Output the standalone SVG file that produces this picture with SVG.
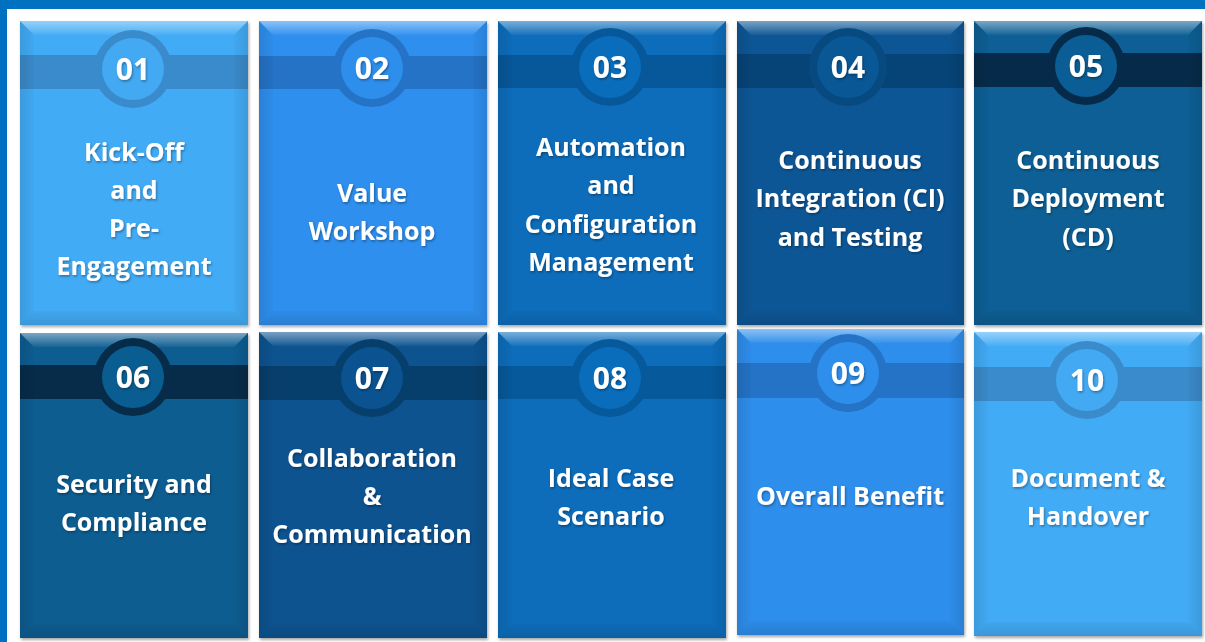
<svg xmlns="http://www.w3.org/2000/svg" width="1205" height="642" viewBox="0 0 1205 642">
<defs>
<linearGradient id="gTop" x1="0" y1="0" x2="0" y2="1"><stop offset="0" stop-color="#fff" stop-opacity="0.45"/><stop offset="1" stop-color="#fff" stop-opacity="0.04"/></linearGradient>
<linearGradient id="gLeft" x1="0" y1="0" x2="1" y2="0"><stop offset="0" stop-color="#000" stop-opacity="0.10"/><stop offset="1" stop-color="#000" stop-opacity="0.02"/></linearGradient>
<linearGradient id="gRight" x1="0" y1="0" x2="1" y2="0"><stop offset="0" stop-color="#000" stop-opacity="0.02"/><stop offset="1" stop-color="#000" stop-opacity="0.10"/></linearGradient>
<linearGradient id="gBot" x1="0" y1="0" x2="0" y2="1"><stop offset="0" stop-color="#000" stop-opacity="0.03"/><stop offset="1" stop-color="#000" stop-opacity="0.12"/></linearGradient>
<filter id="sh" x="-5%" y="-5%" width="110%" height="110%"><feDropShadow dx="1" dy="2" stdDeviation="1.5" flood-color="#000" flood-opacity="0.35"/></filter>
<filter id="ts" x="-10%" y="-20%" width="120%" height="140%"><feDropShadow dx="1" dy="1.5" stdDeviation="0.8" flood-color="#000" flood-opacity="0.35"/></filter>
</defs>
<style>
.lbl{font-family:"Open Sans","Noto Sans","Liberation Sans",sans-serif;font-weight:700;font-size:25px;fill:#fff;text-anchor:middle;filter:url(#ts)}
.num{font-family:"Open Sans","Noto Sans","Liberation Sans",sans-serif;font-weight:700;font-size:30px;fill:#fff;text-anchor:middle;filter:url(#ts)}
.bt{fill:url(#gTop)}.bl{fill:url(#gLeft)}.br{fill:url(#gRight)}.bb{fill:url(#gBot)}
</style>
<rect width="1205" height="642" fill="#fff"/>
<rect x="0" y="0" width="1205" height="9" fill="#0070C0"/>
<rect x="0" y="0" width="7" height="642" fill="#0070C0"/>

<g id="card01" transform="translate(20,21)">
<rect width="228" height="304" fill="#42ABF5" filter="url(#sh)"/>
<rect y="34" width="228" height="34" fill="#3A8BCB"/>
<polygon class="bt" points="0,0 228,0 214,14 14,14"/><polygon class="bl" points="0,0 14,14 14,290 0,304"/><polygon class="br" points="228,0 228,304 214,290 214,14"/><polygon class="bb" points="0,304 14,290 214,290 228,304"/>
<circle cx="113" cy="48" r="39" fill="#3A8BCB"/><circle cx="113" cy="48" r="31" fill="#42A9F2"/>
<text class="num" x="113" y="59">01</text>
<text class="lbl" x="114" y="140">Kick-Off</text><text class="lbl" x="114" y="178">and</text><text class="lbl" x="114" y="216">Pre-</text><text class="lbl" x="114" y="254">Engagement</text>
</g>

<g id="card02" transform="translate(259,21)">
<rect width="228" height="304" fill="#2E8FEE" filter="url(#sh)"/>
<rect y="35" width="228" height="33" fill="#2473C6"/>
<polygon class="bt" points="0,0 228,0 214,14 14,14"/><polygon class="bl" points="0,0 14,14 14,290 0,304"/><polygon class="br" points="228,0 228,304 214,290 214,14"/><polygon class="bb" points="0,304 14,290 214,290 228,304"/>
<circle cx="113" cy="47" r="39" fill="#2473C6"/><circle cx="113" cy="47" r="31" fill="#2E8EEC"/>
<text class="num" x="113" y="58">02</text>
<text class="lbl" x="113" y="181">Value</text><text class="lbl" x="113" y="219">Workshop</text>
</g>

<g id="card03" transform="translate(498,21)">
<rect width="228" height="304" fill="#0A6DBB" filter="url(#sh)"/>
<rect y="34" width="228" height="33" fill="#06589A"/>
<polygon class="bt" points="0,0 228,0 214,14 14,14"/><polygon class="bl" points="0,0 14,14 14,290 0,304"/><polygon class="br" points="228,0 228,304 214,290 214,14"/><polygon class="bb" points="0,304 14,290 214,290 228,304"/>
<circle cx="112" cy="46" r="39" fill="#06589A"/><circle cx="112" cy="46" r="31" fill="#0A6DBB"/>
<text class="num" x="112" y="57">03</text>
<text class="lbl" x="113" y="135">Automation</text><text class="lbl" x="113" y="173">and</text><text class="lbl" x="113" y="212">Configuration</text><text class="lbl" x="113" y="250">Management</text>
</g>

<g id="card04" transform="translate(737,21)">
<rect width="227" height="304" fill="#0A5795" filter="url(#sh)"/>
<rect y="33" width="227" height="34" fill="#064478"/>
<polygon class="bt" points="0,0 227,0 213,14 14,14"/><polygon class="bl" points="0,0 14,14 14,290 0,304"/><polygon class="br" points="227,0 227,304 213,290 213,14"/><polygon class="bb" points="0,304 14,290 213,290 227,304"/>
<circle cx="111" cy="46" r="39" fill="#064A80"/><circle cx="111" cy="46" r="31" fill="#0A5795"/>
<text class="num" x="111" y="57">04</text>
<text class="lbl" x="113" y="148">Continuous</text><text class="lbl" x="113" y="186">Integration (CI)</text><text class="lbl" x="113" y="225">and Testing</text>
</g>

<g id="card05" transform="translate(974,21)">
<rect width="228" height="304" fill="#0A5E95" filter="url(#sh)"/>
<rect y="32" width="228" height="34" fill="#062B4A"/>
<polygon class="bt" points="0,0 228,0 214,14 14,14"/><polygon class="bl" points="0,0 14,14 14,290 0,304"/><polygon class="br" points="228,0 228,304 214,290 214,14"/><polygon class="bb" points="0,304 14,290 214,290 228,304"/>
<circle cx="112" cy="45" r="39" fill="#062B4A"/><circle cx="112" cy="45" r="31" fill="#0A5E95"/>
<text class="num" x="112" y="56">05</text>
<text class="lbl" x="114" y="148">Continuous</text><text class="lbl" x="114" y="186">Deployment</text><text class="lbl" x="114" y="225">(CD)</text>
</g>

<g id="card06" transform="translate(20,333)">
<rect width="228" height="305" fill="#0A5D91" filter="url(#sh)"/>
<rect y="32" width="228" height="34" fill="#062C4A"/>
<polygon class="bt" points="0,0 228,0 214,14 14,14"/><polygon class="bl" points="0,0 14,14 14,291 0,305"/><polygon class="br" points="228,0 228,305 214,291 214,14"/><polygon class="bb" points="0,305 14,291 214,291 228,305"/>
<circle cx="113" cy="44" r="39" fill="#062C4A"/><circle cx="113" cy="44" r="31" fill="#0A5D91"/>
<text class="num" x="113" y="55">06</text>
<text class="lbl" x="114" y="160">Security and</text><text class="lbl" x="114" y="198">Compliance</text>
</g>

<g id="card07" transform="translate(259,332)">
<rect width="228" height="306" fill="#0A5390" filter="url(#sh)"/>
<rect y="34" width="228" height="34" fill="#073F6C"/>
<polygon class="bt" points="0,0 228,0 214,14 14,14"/><polygon class="bl" points="0,0 14,14 14,292 0,306"/><polygon class="br" points="228,0 228,306 214,292 214,14"/><polygon class="bb" points="0,306 14,292 214,292 228,306"/>
<circle cx="113" cy="46" r="39" fill="#073F6C"/><circle cx="113" cy="46" r="31" fill="#0A5390"/>
<text class="num" x="113" y="57">07</text>
<text class="lbl" x="113" y="135">Collaboration</text><text class="lbl" x="113" y="173">&amp;</text><text class="lbl" x="113" y="211">Communication</text>
</g>

<g id="card08" transform="translate(498,332)">
<rect width="228" height="306" fill="#0A6DBB" filter="url(#sh)"/>
<rect y="34" width="228" height="33" fill="#06599B"/>
<polygon class="bt" points="0,0 228,0 214,14 14,14"/><polygon class="bl" points="0,0 14,14 14,292 0,306"/><polygon class="br" points="228,0 228,306 214,292 214,14"/><polygon class="bb" points="0,306 14,292 214,292 228,306"/>
<circle cx="112" cy="46" r="39" fill="#06599B"/><circle cx="112" cy="46" r="31" fill="#0A6DBB"/>
<text class="num" x="112" y="57">08</text>
<text class="lbl" x="113" y="155">Ideal Case</text><text class="lbl" x="113" y="193">Scenario</text>
</g>

<g id="card09" transform="translate(737,329)">
<rect width="227" height="306" fill="#2E8EEC" filter="url(#sh)"/>
<rect y="34" width="227" height="35" fill="#2473C6"/>
<polygon class="bt" points="0,0 227,0 213,14 14,14"/><polygon class="bl" points="0,0 14,14 14,292 0,306"/><polygon class="br" points="227,0 227,306 213,292 213,14"/><polygon class="bb" points="0,306 14,292 213,292 227,306"/>
<circle cx="111" cy="44" r="39" fill="#2473C6"/><circle cx="111" cy="44" r="31" fill="#2E8EEC"/>
<text class="num" x="111" y="55">09</text>
<text class="lbl" x="113" y="176">Overall Benefit</text>
</g>

<g id="card10" transform="translate(974,332)">
<rect width="228" height="304" fill="#42ABF5" filter="url(#sh)"/>
<rect y="35" width="228" height="34" fill="#3A8BCB"/>
<polygon class="bt" points="0,0 228,0 214,14 14,14"/><polygon class="bl" points="0,0 14,14 14,290 0,304"/><polygon class="br" points="228,0 228,304 214,290 214,14"/><polygon class="bb" points="0,304 14,290 214,290 228,304"/>
<circle cx="113" cy="48" r="39" fill="#3A8BCB"/><circle cx="113" cy="48" r="31" fill="#42A9F2"/>
<text class="num" x="113" y="59">10</text>
<text class="lbl" x="114" y="155">Document &amp;</text><text class="lbl" x="114" y="193">Handover</text>
</g>
</svg>
